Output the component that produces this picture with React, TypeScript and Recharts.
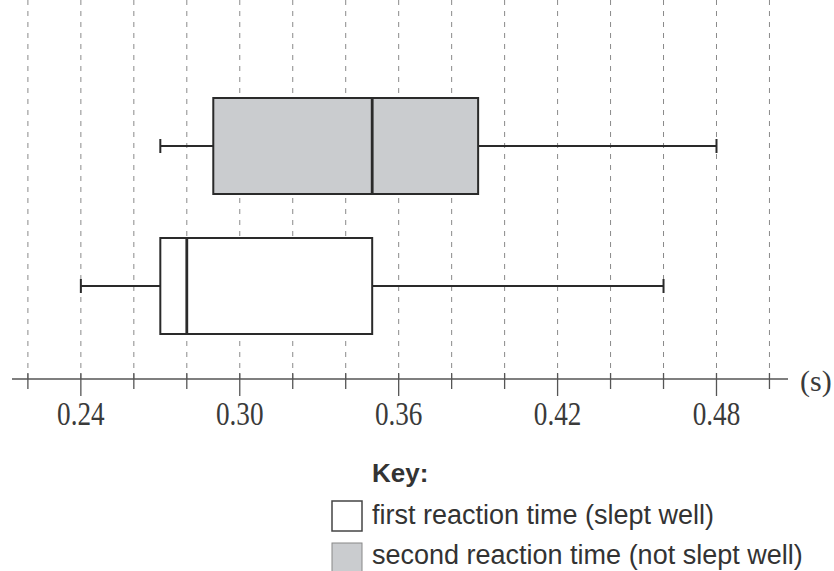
import React from 'react';
import { ComposedChart, Bar, XAxis, YAxis, CartesianGrid } from 'recharts';

// top row first, as drawn
const categories = ['second reaction time (not slept well)', 'first reaction time (slept well)'];
const minValues = [0.27, 0.24];
const q1Values = [0.29, 0.27];
const medianValues = [0.35, 0.28];
const q3Values = [0.39, 0.35];
const maxValues = [0.48, 0.46];
const boxFills = ['#cacccf', '#ffffff'];

const tickValues = [0.22, 0.24, 0.26, 0.28, 0.3, 0.32, 0.34, 0.36, 0.38, 0.4, 0.42, 0.44, 0.46, 0.48, 0.5];
const tickLabels = ['0.24', '0.30', '0.36', '0.42', '0.48'];

const rows = categories.map((name, i) => ({
  name,
  box: [q1Values[i], q3Values[i]],
  min: minValues[i],
  q1: q1Values[i],
  median: medianValues[i],
  q3: q3Values[i],
  max: maxValues[i],
  fill: boxFills[i],
}));

const INK = '#2a2a2a';

// box + whiskers drawn from the bar's own scaled rectangle
const BoxShape = (props: any) => {
  const { x, y, width, height, payload } = props;
  const perUnit = width / (payload.q3 - payload.q1);
  const px = (v: number) => x + (v - payload.q1) * perUnit;
  const cy = y + height / 2;
  const medX = px(payload.median);
  return (
    <g>
      <line x1={px(payload.min)} x2={x} y1={cy} y2={cy} stroke={INK} strokeWidth={2} />
      <line x1={px(payload.min)} x2={px(payload.min)} y1={cy - 7} y2={cy + 7} stroke={INK} strokeWidth={2} />
      <line x1={x + width} x2={px(payload.max)} y1={cy} y2={cy} stroke={INK} strokeWidth={2} />
      <line x1={px(payload.max)} x2={px(payload.max)} y1={cy - 7} y2={cy + 7} stroke={INK} strokeWidth={2} />
      <rect x={x} y={y} width={width} height={height} fill={payload.fill} stroke={INK} strokeWidth={2} />
      <line x1={medX} x2={medX} y1={y} y2={y + height} stroke={INK} strokeWidth={2.8} />
    </g>
  );
};

const AxisTick = (props: any) => {
  const { x, y, payload } = props;
  const label = Number(payload.value).toFixed(2);
  const major = tickLabels.includes(label);
  return (
    <g>
      <line x1={x} x2={x} y1={y - 6} y2={y + (major ? 17 : 10)} stroke="#555" strokeWidth={1.3} />
      {major && (
        <text
          transform={`translate(${x},${y + 46}) scale(0.8,1)`}
          textAnchor="middle"
          fontFamily="'Liberation Serif', serif"
          fontSize={34}
          fill="#3a3a3a"
        >
          {label}
        </text>
      )}
    </g>
  );
};

export default function App() {
  return (
    <div style={{ position: 'absolute', left: 0, top: 0, width: 834, height: 571, background: '#fff' }}>
      <ComposedChart
        width={834}
        height={571}
        data={rows}
        layout="vertical"
        margin={{ top: 0, right: 46, bottom: 142, left: 12 }}
        barSize={96}
      >
        <CartesianGrid horizontal={false} syncWithTicks stroke="#8a8a8a" strokeDasharray="5 6" />
        <XAxis
          type="number"
          domain={[0.214, 0.507]}
          ticks={tickValues}
          allowDataOverflow
          height={50}
          tickSize={0}
          tickMargin={0}
          tickLine={false}
          interval={0}
          stroke="#555"
          strokeWidth={1.5}
          tick={<AxisTick />}
          label={{
            value: '(s)',
            position: 'right',
            offset: 12,
            dy: -24,
            fill: '#3a3a3a',
            fontSize: 30,
            fontFamily: "'Liberation Serif', serif",
          }}
        />
        <YAxis type="category" dataKey="name" hide width={0} padding={{ top: 76, bottom: 23 }} />
        <Bar dataKey="box" shape={<BoxShape />} isAnimationActive={false} />
      </ComposedChart>
      <svg width={834} height={571} style={{ position: 'absolute', left: 0, top: 0, pointerEvents: 'none' }}>
        <g fontFamily="'Liberation Sans', Arial, sans-serif" fill="#333">
          <text x={372} y={482} fontSize={26} fontWeight="bold">Key:</text>
          <rect x={332} y={501} width={30} height={30} fill="#fff" stroke="#444" strokeWidth={1.5} />
          <text x={372} y={524} fontSize={27}>{categories[1]}</text>
          <rect x={332} y={543} width={30} height={30} fill={boxFills[0]} stroke="#888" strokeWidth={1} />
          <text x={372} y={564} fontSize={27}>{categories[0]}</text>
        </g>
      </svg>
    </div>
  );
}
